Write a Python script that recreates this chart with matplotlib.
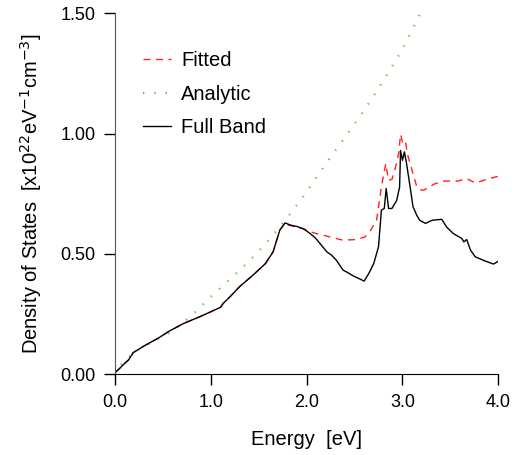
import matplotlib.pyplot as plt

plt.rcParams['font.family'] = ['Liberation Sans', 'DejaVu Sans']

# energies [eV] and density of states [1e22 eV^-1 cm^-3]
fullE = [0.0, 0.05, 0.10, 0.14, 0.19, 0.30, 0.45, 0.57, 0.71, 0.89, 1.10, 1.13, 1.20, 1.30,
         1.44, 1.57, 1.65, 1.72, 1.775, 1.83, 1.90, 1.97, 2.035, 2.09, 2.14, 2.21, 2.26,
         2.31, 2.38, 2.44, 2.49, 2.55, 2.60, 2.65, 2.70, 2.75, 2.78, 2.81, 2.83, 2.855,
         2.89, 2.94, 2.97, 2.98, 3.00, 3.02, 3.04, 3.08, 3.11, 3.15, 3.18, 3.24, 3.31,
         3.41, 3.46, 3.53, 3.62, 3.64, 3.67, 3.71, 3.76, 3.86, 3.95, 4.0]
fullD = [0.007, 0.025, 0.045, 0.059, 0.09, 0.117, 0.15, 0.18, 0.21, 0.24, 0.278, 0.295,
         0.322, 0.364, 0.412, 0.46, 0.509, 0.599, 0.629, 0.62, 0.614, 0.604, 0.585, 0.567,
         0.543, 0.509, 0.495, 0.474, 0.433, 0.42, 0.408, 0.397, 0.387, 0.42, 0.46, 0.53,
         0.682, 0.689, 0.772, 0.689, 0.689, 0.723, 0.778, 0.93, 0.889, 0.924, 0.882, 0.778,
         0.696, 0.66, 0.64, 0.627, 0.64, 0.644, 0.612, 0.585, 0.564, 0.55, 0.56, 0.516,
         0.488, 0.471, 0.458, 0.47]

fitE = [0.0, 0.05, 0.10, 0.14, 0.19, 0.30, 0.45, 0.57, 0.71, 0.89, 1.10, 1.13, 1.20, 1.30,
        1.44, 1.57, 1.65, 1.72, 1.775, 1.81, 1.95, 2.07, 2.24, 2.38, 2.52, 2.61, 2.67,
        2.73, 2.78, 2.825, 2.855, 2.89, 2.92, 2.96, 2.98, 3.00, 3.03, 3.05, 3.10, 3.15,
        3.20, 3.22, 3.34, 3.44, 3.58, 3.67, 3.76, 3.88, 4.0]
fitD = [0.007, 0.025, 0.045, 0.059, 0.09, 0.117, 0.15, 0.18, 0.21, 0.24, 0.278, 0.295,
        0.322, 0.364, 0.412, 0.46, 0.509, 0.599, 0.629, 0.62, 0.606, 0.588, 0.571, 0.557,
        0.56, 0.571, 0.6, 0.64, 0.778, 0.875, 0.806, 0.81, 0.848, 0.917, 0.997, 0.965,
        0.972, 0.917, 0.848, 0.778, 0.765, 0.765, 0.792, 0.803, 0.803, 0.813, 0.795, 0.81,
        0.823]

anaE = [0.0, 0.05, 0.10, 0.19, 0.30, 0.45, 0.59, 0.80, 1.00, 1.20, 1.40, 1.60, 1.79,
        1.95, 2.105, 2.30, 2.50, 2.65, 2.80, 3.00, 3.18]
anaD = [0.0, 0.035, 0.055, 0.087, 0.115, 0.148, 0.177, 0.245, 0.322, 0.395, 0.47, 0.555,
        0.647, 0.73, 0.82, 0.93, 1.04, 1.127, 1.22, 1.35, 1.495]

fig = plt.figure(figsize=(5.22, 4.55), dpi=100)
ax = fig.add_axes([0.2203, 0.1774, 0.7343, 0.7934])

ax.plot(fitE, fitD, color='#ff2020', lw=1.0, dashes=(5, 4), label='Fitted')
ax.plot(anaE, anaD, color='#66c244', lw=1.6, dashes=(0.6, 4.5), label='Analytic')
ax.plot(fullE, fullD, color='black', lw=1.0, label='Full Band')

ax.set_xlim(0, 4)
ax.set_ylim(0, 1.5)
ax.set_xticks([0, 1, 2, 3, 4])
ax.set_xticklabels(['0.0', '1.0', '2.0', '3.0', '4.0'])
ax.set_yticks([0, 0.5, 1.0, 1.5])
ax.set_yticklabels(['0.00', '0.50', '1.00', '1.50'])
ax.tick_params(direction='out', length=8, width=1, labelsize=13, pad=6)

for s in ['top', 'right']:
    ax.spines[s].set_visible(False)
ax.spines['left'].set_color('#555555')
ax.spines['bottom'].set_color('black')

ax.set_xlabel('Energy  [eV]', fontsize=14.5, labelpad=14)
ax.set_ylabel('Density of States  [x10$^{22}$eV$^{-1}$cm$^{-3}$]', fontsize=14.5, labelpad=12)

ax.legend(loc='upper left', bbox_to_anchor=(0.073, 0.895), frameon=False, fontsize=14.5,
          handlelength=1.4, handletextpad=0.5, labelspacing=0.72, borderpad=0,
          borderaxespad=0)

fig.savefig('out.png', dpi=100)
